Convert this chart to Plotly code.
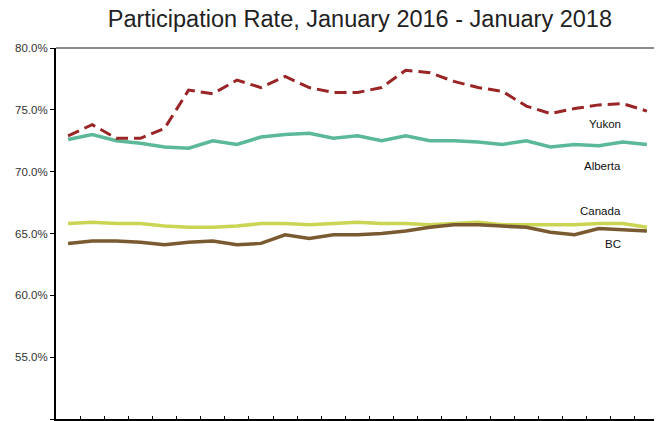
import plotly.graph_objects as go

months = ["Jan 2016", "Feb 2016", "Mar 2016", "Apr 2016", "May 2016", "Jun 2016",
          "Jul 2016", "Aug 2016", "Sep 2016", "Oct 2016", "Nov 2016", "Dec 2016",
          "Jan 2017", "Feb 2017", "Mar 2017", "Apr 2017", "May 2017", "Jun 2017",
          "Jul 2017", "Aug 2017", "Sep 2017", "Oct 2017", "Nov 2017", "Dec 2017",
          "Jan 2018"]

yukon = [72.9, 73.8, 72.7, 72.7, 73.5, 76.6, 76.3, 77.4, 76.8, 77.7, 76.8, 76.4,
         76.4, 76.8, 78.2, 78.0, 77.3, 76.8, 76.5, 75.3, 74.7, 75.1, 75.4, 75.5, 74.9]
alberta = [72.6, 73.0, 72.5, 72.3, 72.0, 71.9, 72.5, 72.2, 72.8, 73.0, 73.1, 72.7,
           72.9, 72.5, 72.9, 72.5, 72.5, 72.4, 72.2, 72.5, 72.0, 72.2, 72.1, 72.4, 72.2]
canada = [65.8, 65.9, 65.8, 65.8, 65.6, 65.5, 65.5, 65.6, 65.8, 65.8, 65.7, 65.8,
          65.9, 65.8, 65.8, 65.7, 65.8, 65.9, 65.7, 65.7, 65.7, 65.7, 65.8, 65.8, 65.5]
bc = [64.2, 64.4, 64.4, 64.3, 64.1, 64.3, 64.4, 64.1, 64.2, 64.9, 64.6, 64.9,
      64.9, 65.0, 65.2, 65.5, 65.7, 65.7, 65.6, 65.5, 65.1, 64.9, 65.4, 65.3, 65.2]

y_ticks = [50, 55, 60, 65, 70, 75, 80]

fig = go.Figure()
fig.add_trace(go.Scatter(x=months, y=canada, mode="lines", name="Canada",
                         line=dict(color="#C9D553", width=3.5)))
fig.add_trace(go.Scatter(x=months, y=bc, mode="lines", name="BC",
                         line=dict(color="#7A5A30", width=3.5)))
fig.add_trace(go.Scatter(x=months, y=alberta, mode="lines", name="Alberta",
                         line=dict(color="#5BB898", width=3.5)))
fig.add_trace(go.Scatter(x=months, y=yukon, mode="lines", name="Yukon",
                         line=dict(color="#992526", width=3, dash="12px,6px")))

labels = [("Yukon", 73.85), ("Alberta", 70.45), ("Canada", 66.8), ("BC", 64.15)]
for txt, yv in labels:
    fig.add_annotation(x=0.940, xref="paper", y=yv, yref="y", text=txt,
                       showarrow=False, font=dict(size=11.5, color="#111111",
                                                  family="Liberation Sans, Arial"))

fig.update_layout(
    width=654, height=413,
    margin=dict(l=48, r=3, t=40, b=2, autoexpand=False),
    paper_bgcolor="white", plot_bgcolor="white",
    showlegend=False,
    title=dict(text="Participation Rate, January 2016 - January 2018",
               x=0.538, xanchor="center", xref="container",
               y=1.0, yanchor="top", yref="container", pad=dict(t=3),
               font=dict(size=23.5, color="#222222", family="Liberation Sans, Arial")),
    font=dict(family="Liberation Sans, Arial", size=11, color="#333333"),
)
fig.update_xaxes(type="category", range=[-0.5, 24.5], automargin=False,
                 showgrid=False, zeroline=False,
                 showline=True, linecolor="black", linewidth=2,
                 ticks="inside", ticklen=3, tickcolor="black", tickwidth=1,
                 tickson="boundaries", showticklabels=False)
fig.update_yaxes(range=[50, 80], tickvals=y_ticks, automargin=False,
                 ticktext=[f"{v:.1f}%" for v in y_ticks],
                 showgrid=False, zeroline=False,
                 showline=True, linecolor="black", linewidth=2,
                 ticks="outside", ticklen=4, tickcolor="black",
                 tickfont=dict(size=11.5, color="#333333"))
fig.add_shape(type="line", xref="paper", yref="paper", x0=0, x1=1, y0=1, y1=1,
              line=dict(color="#8c8c8c", width=2))
fig.add_shape(type="line", xref="paper", yref="paper", x0=1, x1=1, y0=0, y1=1,
              line=dict(color="#8c8c8c", width=2.5))

fig.write_html("out.html")
